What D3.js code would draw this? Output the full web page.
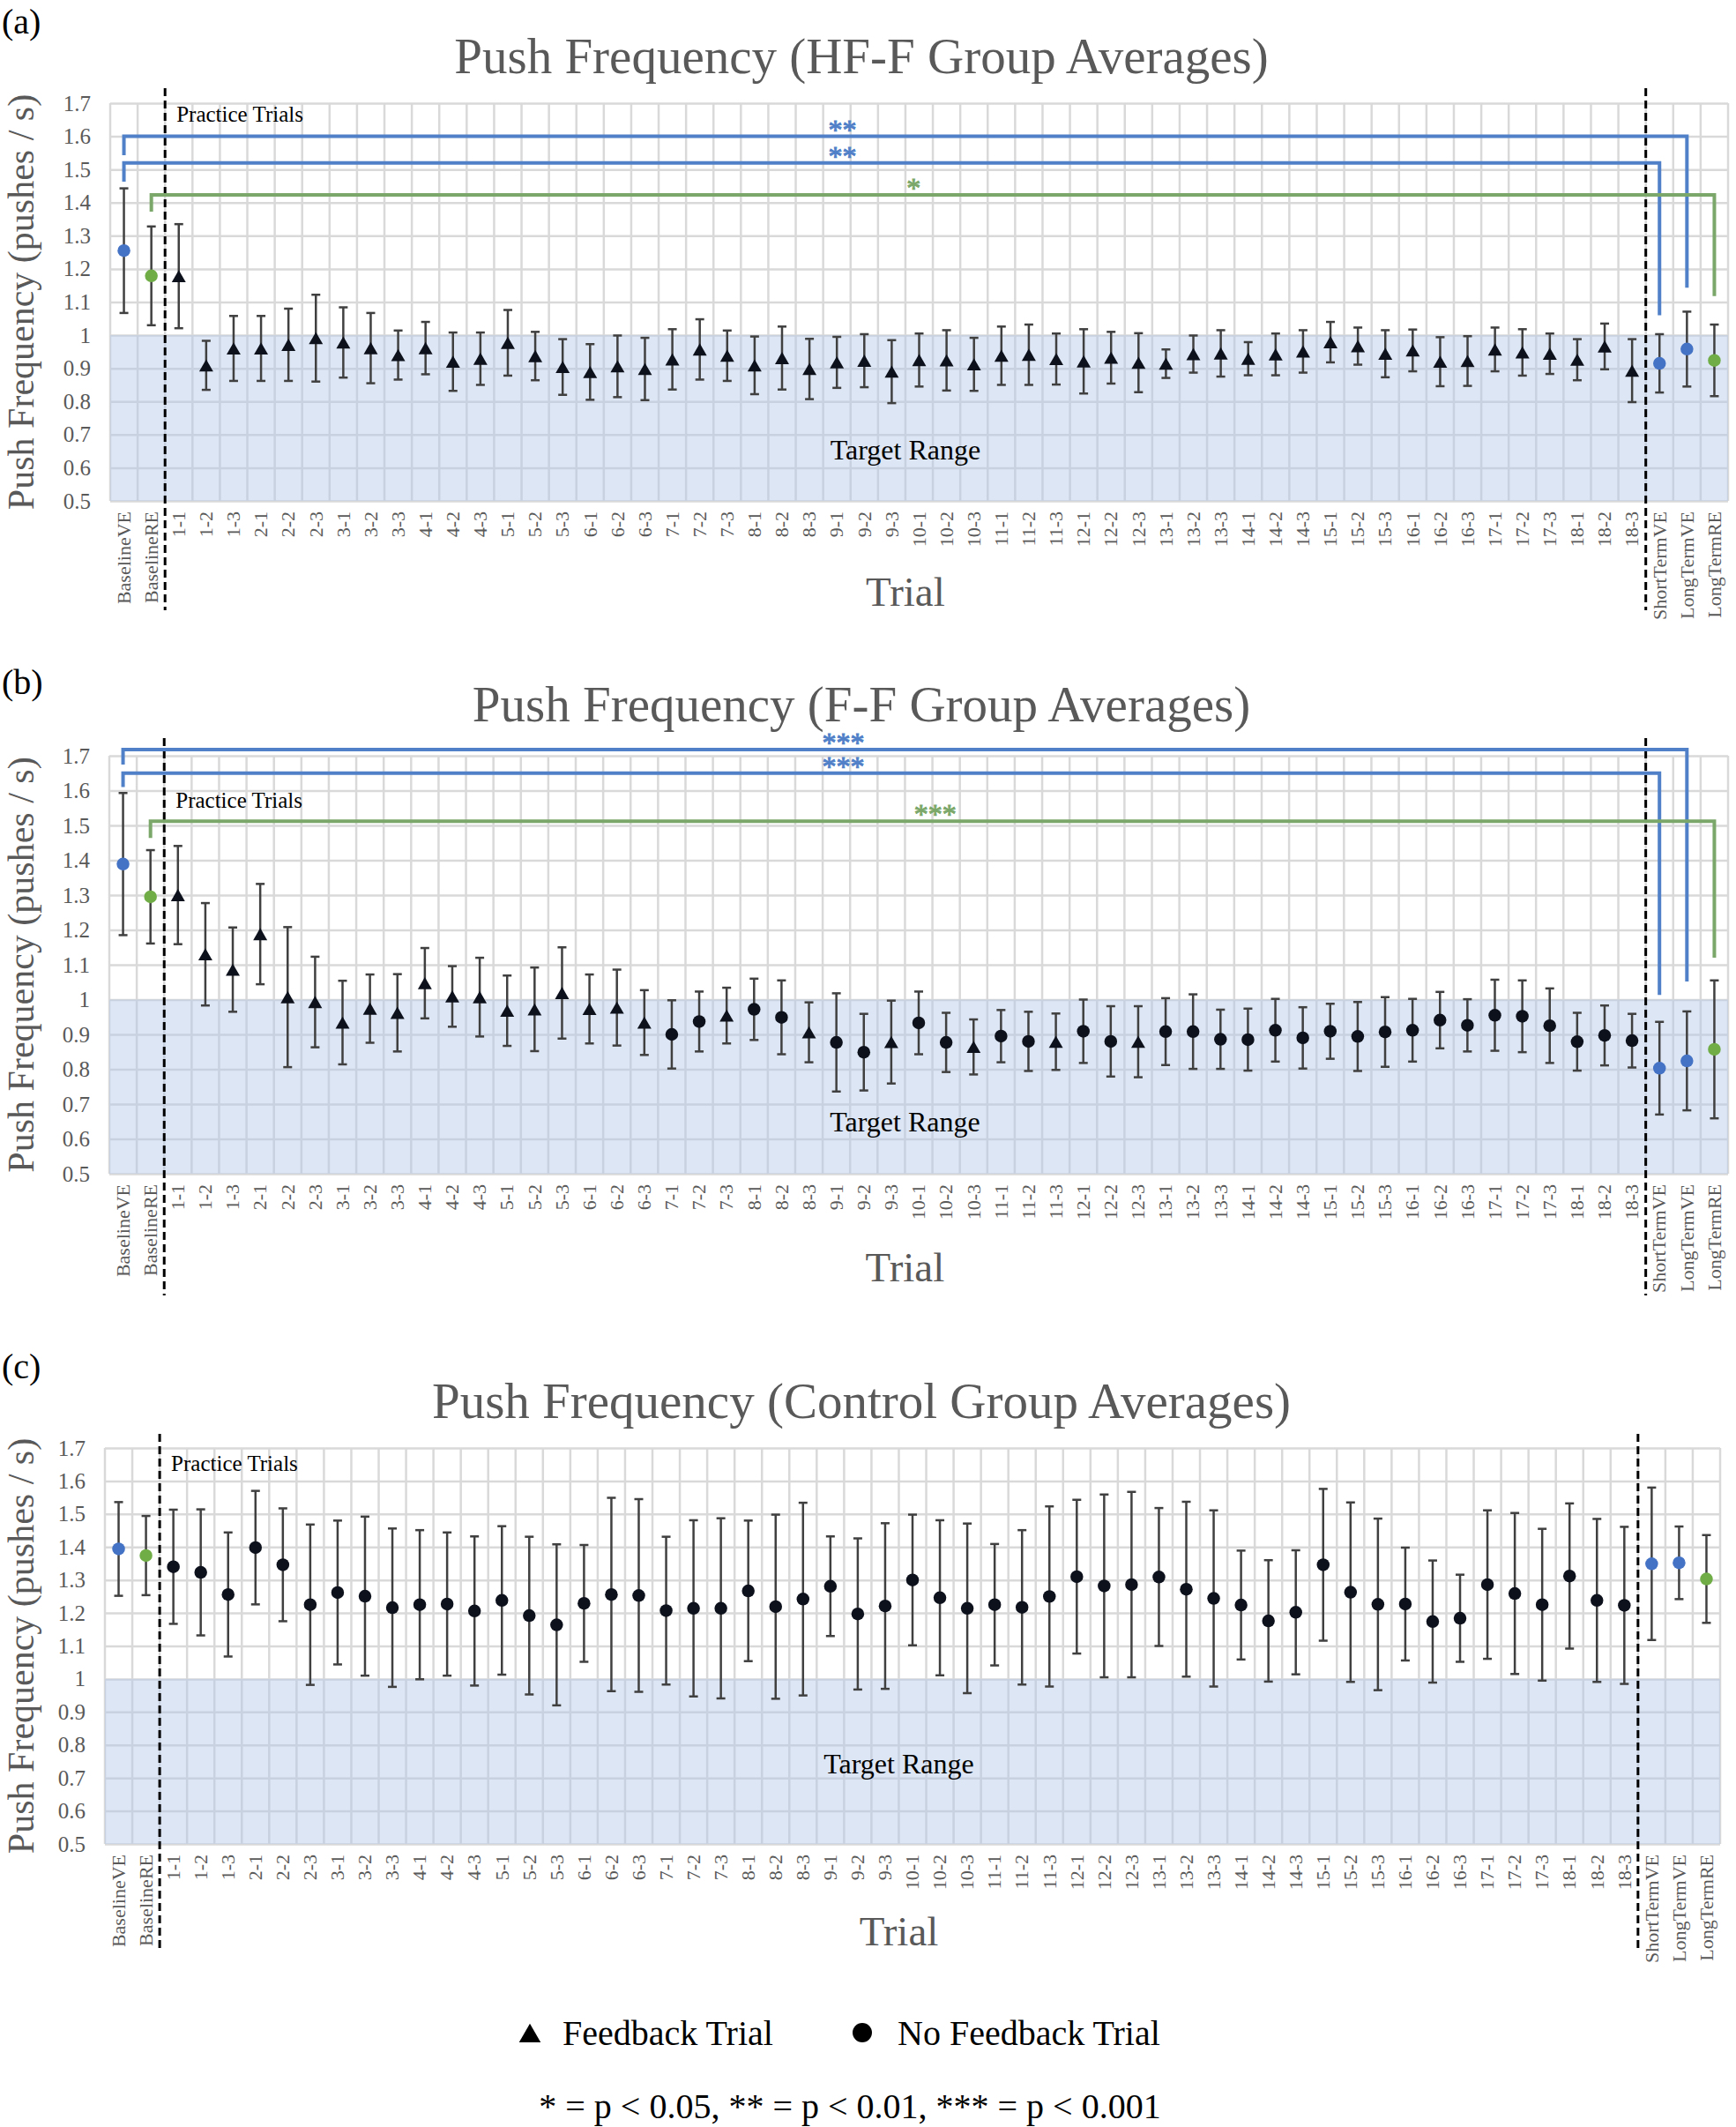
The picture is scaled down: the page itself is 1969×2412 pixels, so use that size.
<!DOCTYPE html>
<html>
<head>
<meta charset="utf-8">
<script src="https://cdn.jsdelivr.net/npm/d3@7"></script>
<style>
  html, body { margin: 0; padding: 0; background: #fff; }
  svg { display: block; font-family: "Liberation Serif", "Times New Roman", serif; }
</style>
</head>
<body>
<script>
const trialLabels = [
  '1-1', '1-2', '1-3', '2-1', '2-2', '2-3', '3-1', '3-2', '3-3',
  '4-1', '4-2', '4-3', '5-1', '5-2', '5-3', '6-1', '6-2', '6-3',
  '7-1', '7-2', '7-3', '8-1', '8-2', '8-3', '9-1', '9-2', '9-3',
  '10-1', '10-2', '10-3', '11-1', '11-2', '11-3', '12-1', '12-2', '12-3',
  '13-1', '13-2', '13-3', '14-1', '14-2', '14-3', '15-1', '15-2', '15-3',
  '16-1', '16-2', '16-3', '17-1', '17-2', '17-3', '18-1', '18-2', '18-3'
];
const categories = ['BaselineVE', 'BaselineRE', ...trialLabels, 'ShortTermVE', 'LongTermVE', 'LongTermRE'];

// HF-F group
const hffMean = [
  1.255, 1.179,
  1.178, 0.909, 0.960, 0.960, 0.971, 0.991, 0.978, 0.961, 0.940,
  0.961, 0.920, 0.929, 0.977, 0.937, 0.904, 0.889, 0.906, 0.898,
  0.927, 0.957, 0.938, 0.909, 0.931, 0.898, 0.918, 0.923, 0.890,
  0.925, 0.924, 0.912, 0.938, 0.941, 0.928, 0.921, 0.932, 0.917,
  0.914, 0.943, 0.945, 0.929, 0.942, 0.951, 0.979, 0.967, 0.944,
  0.954, 0.920, 0.922, 0.957, 0.948, 0.944, 0.926, 0.966, 0.893,
  0.915, 0.958, 0.924
];
const hffSd = [
  0.188, 0.149,
  0.157, 0.074, 0.098, 0.098, 0.109, 0.131, 0.106, 0.106, 0.074,
  0.079, 0.088, 0.079, 0.099, 0.073, 0.084, 0.084, 0.093, 0.094,
  0.091, 0.091, 0.076, 0.087, 0.095, 0.091, 0.077, 0.080, 0.095,
  0.080, 0.091, 0.080, 0.088, 0.091, 0.077, 0.097, 0.078, 0.089,
  0.043, 0.056, 0.070, 0.050, 0.063, 0.064, 0.061, 0.056, 0.071,
  0.063, 0.074, 0.075, 0.066, 0.070, 0.061, 0.062, 0.069, 0.095,
  0.088, 0.113, 0.108
];
const hffFeedback = trialLabels;

// F-F group
const ffMean = [
  1.389, 1.295,
  1.300, 1.130, 1.086, 1.188, 1.007, 0.993, 0.934, 0.974, 0.962,
  1.047, 1.009, 1.007, 0.968, 0.972, 1.019, 0.973, 0.977, 0.934,
  0.900, 0.937, 0.954, 0.972, 0.949, 0.906, 0.877, 0.849, 0.878,
  0.933, 0.877, 0.864, 0.895, 0.880, 0.879, 0.909, 0.880, 0.879,
  0.908, 0.908, 0.886, 0.885, 0.912, 0.890, 0.909, 0.894, 0.907,
  0.912, 0.941, 0.926, 0.955, 0.952, 0.925, 0.879, 0.897, 0.882,
  0.803, 0.824, 0.857
];
const ffSd = [
  0.204, 0.134,
  0.141, 0.147, 0.121, 0.144, 0.201, 0.130, 0.120, 0.098, 0.111,
  0.101, 0.087, 0.113, 0.101, 0.120, 0.131, 0.099, 0.109, 0.093,
  0.098, 0.086, 0.080, 0.088, 0.106, 0.086, 0.141, 0.110, 0.119,
  0.090, 0.085, 0.079, 0.075, 0.085, 0.081, 0.091, 0.101, 0.102,
  0.096, 0.107, 0.085, 0.089, 0.090, 0.088, 0.079, 0.099, 0.100,
  0.090, 0.081, 0.075, 0.102, 0.103, 0.107, 0.083, 0.086, 0.077,
  0.133, 0.142, 0.198
];
const ffFeedback = [
  '1-1', '1-2', '1-3', '2-1', '2-2', '2-3', '3-1', '3-2', '3-3',
  '4-1', '4-2', '4-3', '5-1', '5-2', '5-3', '6-1', '6-2', '6-3',
  '7-3', '8-3', '9-3', '10-3', '11-3', '12-3'
];

// Control group
const ctrlMean = [
  1.394, 1.374,
  1.340, 1.323, 1.256, 1.398, 1.346, 1.225, 1.262, 1.251, 1.216,
  1.225, 1.227, 1.206, 1.238, 1.192, 1.164, 1.229, 1.256, 1.253,
  1.207, 1.214, 1.214, 1.267, 1.219, 1.242, 1.281, 1.197, 1.221,
  1.300, 1.246, 1.214, 1.225, 1.217, 1.250, 1.310, 1.282, 1.286,
  1.309, 1.272, 1.244, 1.224, 1.176, 1.202, 1.346, 1.263, 1.226,
  1.227, 1.174, 1.184, 1.286, 1.259, 1.225, 1.312, 1.238, 1.223,
  1.349, 1.352, 1.303
];
const ctrlSd = [
  0.142, 0.120,
  0.173, 0.191, 0.188, 0.172, 0.171, 0.243, 0.218, 0.241, 0.240,
  0.226, 0.217, 0.226, 0.225, 0.239, 0.244, 0.177, 0.293, 0.292,
  0.224, 0.267, 0.273, 0.213, 0.279, 0.292, 0.151, 0.229, 0.251,
  0.198, 0.235, 0.257, 0.184, 0.234, 0.273, 0.233, 0.277, 0.281,
  0.209, 0.265, 0.267, 0.165, 0.184, 0.188, 0.230, 0.272, 0.260,
  0.171, 0.185, 0.132, 0.225, 0.244, 0.230, 0.220, 0.247, 0.238,
  0.231, 0.110, 0.133
];
const ctrlFeedback = [];

// significance brackets: level, ends, star text
const hffBrackets = [
  { from: 'BaselineVE', to: 'LongTermVE', level: 1.600, fromEnd: 1.543, toEnd: 1.143, kind: 'VE', stars: '**', at: '9-1', shift: 0.2 },
  { from: 'BaselineVE', to: 'ShortTermVE', level: 1.520, fromEnd: 1.463, toEnd: 1.060, kind: 'VE', stars: '**', at: '9-1', shift: 0.2 },
  { from: 'BaselineRE', to: 'LongTermRE', level: 1.423, fromEnd: 1.373, toEnd: 1.118, kind: 'RE', stars: '*', at: '10-1', shift: -0.2 }
];
const ffBrackets = [
  { from: 'BaselineVE', to: 'LongTermVE', level: 1.718, fromEnd: 1.675, toEnd: 1.052, kind: 'VE', stars: '***', at: '9-1', shift: 0.25 },
  { from: 'BaselineVE', to: 'ShortTermVE', level: 1.650, fromEnd: 1.610, toEnd: 1.013, kind: 'VE', stars: '***', at: '9-1', shift: 0.25 },
  { from: 'BaselineRE', to: 'LongTermRE', level: 1.512, fromEnd: 1.464, toEnd: 1.120, kind: 'RE', stars: '***', at: '10-1', shift: 0.6 }
];

const COLORS = { VE: '#4472c4', RE: '#70ad47', trial: '#0d111c' };
const BRACKET = { VE: '#5080c8', RE: '#7ba86a' };
const GREY = '#595959';

const panels = [
  { letter: '(a)', letterY: 38, title: 'Push Frequency (HF-F Group Averages)', titleY: 83,
    left: 125, right: 1960, top: 117, bottom: 568, dashTop: 100, dashBottom: 692, trialY: 687,
    practiceAt: 1.644, targetAt: 0.626, mean: hffMean, sd: hffSd, feedback: hffFeedback, brackets: hffBrackets },
  { letter: '(b)', letterY: 787, title: 'Push Frequency (F-F Group Averages)', titleY: 818,
    left: 124, right: 1960, top: 857, bottom: 1331, dashTop: 837, dashBottom: 1469, trialY: 1453,
    practiceAt: 1.55, targetAt: 0.621, mean: ffMean, sd: ffSd, feedback: ffFeedback, brackets: ffBrackets },
  { letter: '(c)', letterY: 1563, title: 'Push Frequency (Control Group Averages)', titleY: 1608,
    left: 119, right: 1951, top: 1642, bottom: 2091, dashTop: 1626, dashBottom: 2213, trialY: 2206,
    practiceAt: 1.63, targetAt: 0.713, mean: ctrlMean, sd: ctrlSd, feedback: ctrlFeedback, brackets: [] }
];

const svg = d3.select('body').append('svg')
  .attr('width', 1969)
  .attr('height', 2412);

const kindOf = (c) => c.endsWith('VE') ? 'VE' : c.endsWith('RE') ? 'RE' : 'trial';

const TRI_SIZE = 110;
const triangle = d3.symbol().type(d3.symbolTriangle).size(TRI_SIZE);
const dot = d3.symbol().type(d3.symbolCircle).size(165);
const triShift = Math.sqrt(TRI_SIZE / (Math.sqrt(3) * 3)) / 2; // centre the triangle's box on the value

function drawPanel(p) {
  const x = d3.scaleBand().domain(categories).range([p.left, p.right]).padding(0);
  const y = d3.scaleLinear().domain([0.5, 1.7]).range([p.bottom, p.top]);
  const cx = (c) => x(c) + x.bandwidth() / 2;
  const g = svg.append('g');

  g.append('text')
    .attr('x', 2).attr('y', p.letterY)
    .attr('font-size', 40).attr('fill', '#000')
    .text(p.letter);

  g.append('text')
    .attr('x', 977).attr('y', p.titleY)
    .attr('text-anchor', 'middle')
    .attr('font-size', 57).attr('fill', GREY)
    .text(p.title);

  // horizontal grid
  g.append('g')
    .attr('transform', `translate(${p.left},0)`)
    .call(d3.axisLeft(y).ticks(12).tickSize(-(p.right - p.left)).tickFormat(''))
    .call(s => s.select('.domain').remove())
    .selectAll('line')
    .attr('stroke', '#d9d9d9').attr('stroke-width', 2.5);

  // vertical grid at category edges
  g.append('g').selectAll('line')
    .data([...categories.map(c => x(c)), p.right])
    .join('line')
    .attr('x1', d => d).attr('x2', d => d)
    .attr('y1', p.top).attr('y2', p.bottom)
    .attr('stroke', '#d9d9d9').attr('stroke-width', 2.5);

  // target range band
  g.append('rect')
    .attr('x', p.left).attr('y', y(1))
    .attr('width', p.right - p.left).attr('height', y(0.5) - y(1))
    .attr('fill', '#b4c7e7').attr('fill-opacity', 0.45);

  g.append('text')
    .attr('x', x('10-1')).attr('y', y(p.targetAt))
    .attr('text-anchor', 'middle')
    .attr('font-size', 32).attr('fill', '#000')
    .text('Target Range');

  // y axis labels
  g.append('g')
    .attr('transform', `translate(${p.left},0)`)
    .call(d3.axisLeft(y).ticks(12).tickSize(0).tickPadding(22).tickFormat(d3.format('~g')))
    .attr('font-family', null).attr('font-size', null)
    .call(s => s.select('.domain').remove())
    .selectAll('text')
    .attr('font-size', 25).attr('fill', GREY);

  // x axis labels, rotated
  g.append('g')
    .attr('transform', `translate(0,${p.bottom})`)
    .call(d3.axisBottom(x).tickSize(0))
    .attr('font-family', null).attr('font-size', null)
    .call(s => s.select('.domain').remove())
    .selectAll('text')
    .attr('transform', 'rotate(-90)')
    .attr('text-anchor', 'end')
    .attr('x', -12).attr('y', 0).attr('dy', '0.33em')
    .attr('font-size', 22).attr('fill', GREY);

  g.append('text')
    .attr('transform', `translate(38,${(p.top + p.bottom) / 2}) rotate(-90)`)
    .attr('text-anchor', 'middle')
    .attr('font-size', 42).attr('fill', GREY)
    .text('Push Frequency (pushes / s)');

  g.append('text')
    .attr('x', x('10-1')).attr('y', p.trialY)
    .attr('text-anchor', 'middle')
    .attr('font-size', 47).attr('fill', GREY)
    .text('Trial');

  // practice block separators
  g.append('g').selectAll('line')
    .data(['1-1', 'ShortTermVE'])
    .join('line')
    .attr('x1', d => x(d)).attr('x2', d => x(d))
    .attr('y1', p.dashTop).attr('y2', p.dashBottom)
    .attr('stroke', '#000').attr('stroke-width', 3)
    .attr('stroke-dasharray', '9,5');

  g.append('text')
    .attr('x', x('1-1') + 13).attr('y', y(p.practiceAt))
    .attr('font-size', 25).attr('fill', '#000')
    .text('Practice Trials');

  // significance brackets
  const br = g.append('g').selectAll('g')
    .data(p.brackets)
    .join('g');

  br.append('path')
    .attr('d', b => `M${cx(b.from)},${y(b.fromEnd)}V${y(b.level)}H${cx(b.to)}V${y(b.toEnd)}`)
    .attr('fill', 'none')
    .attr('stroke', b => BRACKET[b.kind])
    .attr('stroke-width', 4);

  br.append('text')
    .attr('x', b => cx(b.at) + b.shift * x.bandwidth())
    .attr('y', b => y(b.level) + 3)
    .attr('text-anchor', 'middle')
    .attr('font-size', 32)
    .attr('fill', b => BRACKET[b.kind])
    .attr('stroke', b => BRACKET[b.kind])
    .attr('stroke-width', 1)
    .text(b => b.stars);

  // error bars
  const rows = categories.map((c, i) => ({ c, m: p.mean[i], sd: p.sd[i], kind: kindOf(c), tri: p.feedback.includes(c) }));
  const eb = g.append('g').selectAll('g')
    .data(rows)
    .join('g')
    .attr('stroke', '#404040')
    .attr('stroke-width', 2.5);

  eb.append('line')
    .attr('x1', d => cx(d.c)).attr('x2', d => cx(d.c))
    .attr('y1', d => y(d.m - d.sd)).attr('y2', d => y(d.m + d.sd));
  eb.append('line')
    .attr('x1', d => cx(d.c) - 5).attr('x2', d => cx(d.c) + 5)
    .attr('y1', d => y(d.m + d.sd)).attr('y2', d => y(d.m + d.sd));
  eb.append('line')
    .attr('x1', d => cx(d.c) - 5).attr('x2', d => cx(d.c) + 5)
    .attr('y1', d => y(d.m - d.sd)).attr('y2', d => y(d.m - d.sd));

  // markers
  g.append('g').selectAll('path')
    .data(rows)
    .join('path')
    .attr('d', d => d.tri ? triangle() : dot())
    .attr('transform', d => `translate(${cx(d.c)},${y(d.m) + (d.tri ? triShift : 0)})`)
    .attr('fill', d => COLORS[d.kind]);
}

panels.forEach(drawPanel);

// legend
const legend = svg.append('g').attr('font-size', 40).attr('fill', '#000');
legend.append('path')
  .attr('d', d3.symbol().type(d3.symbolTriangle).size(260)())
  .attr('transform', 'translate(601,2309)');
legend.append('text').attr('x', 638).attr('y', 2319).text('Feedback Trial');
legend.append('path')
  .attr('d', d3.symbol().type(d3.symbolCircle).size(380)())
  .attr('transform', 'translate(978,2305)');
legend.append('text').attr('x', 1018).attr('y', 2319).text('No Feedback Trial');

svg.append('text')
  .attr('x', 964).attr('y', 2402)
  .attr('text-anchor', 'middle')
  .attr('font-size', 40).attr('fill', '#000')
  .text('* = p < 0.05, ** = p < 0.01, *** = p < 0.001');
</script>
</body>
</html>
